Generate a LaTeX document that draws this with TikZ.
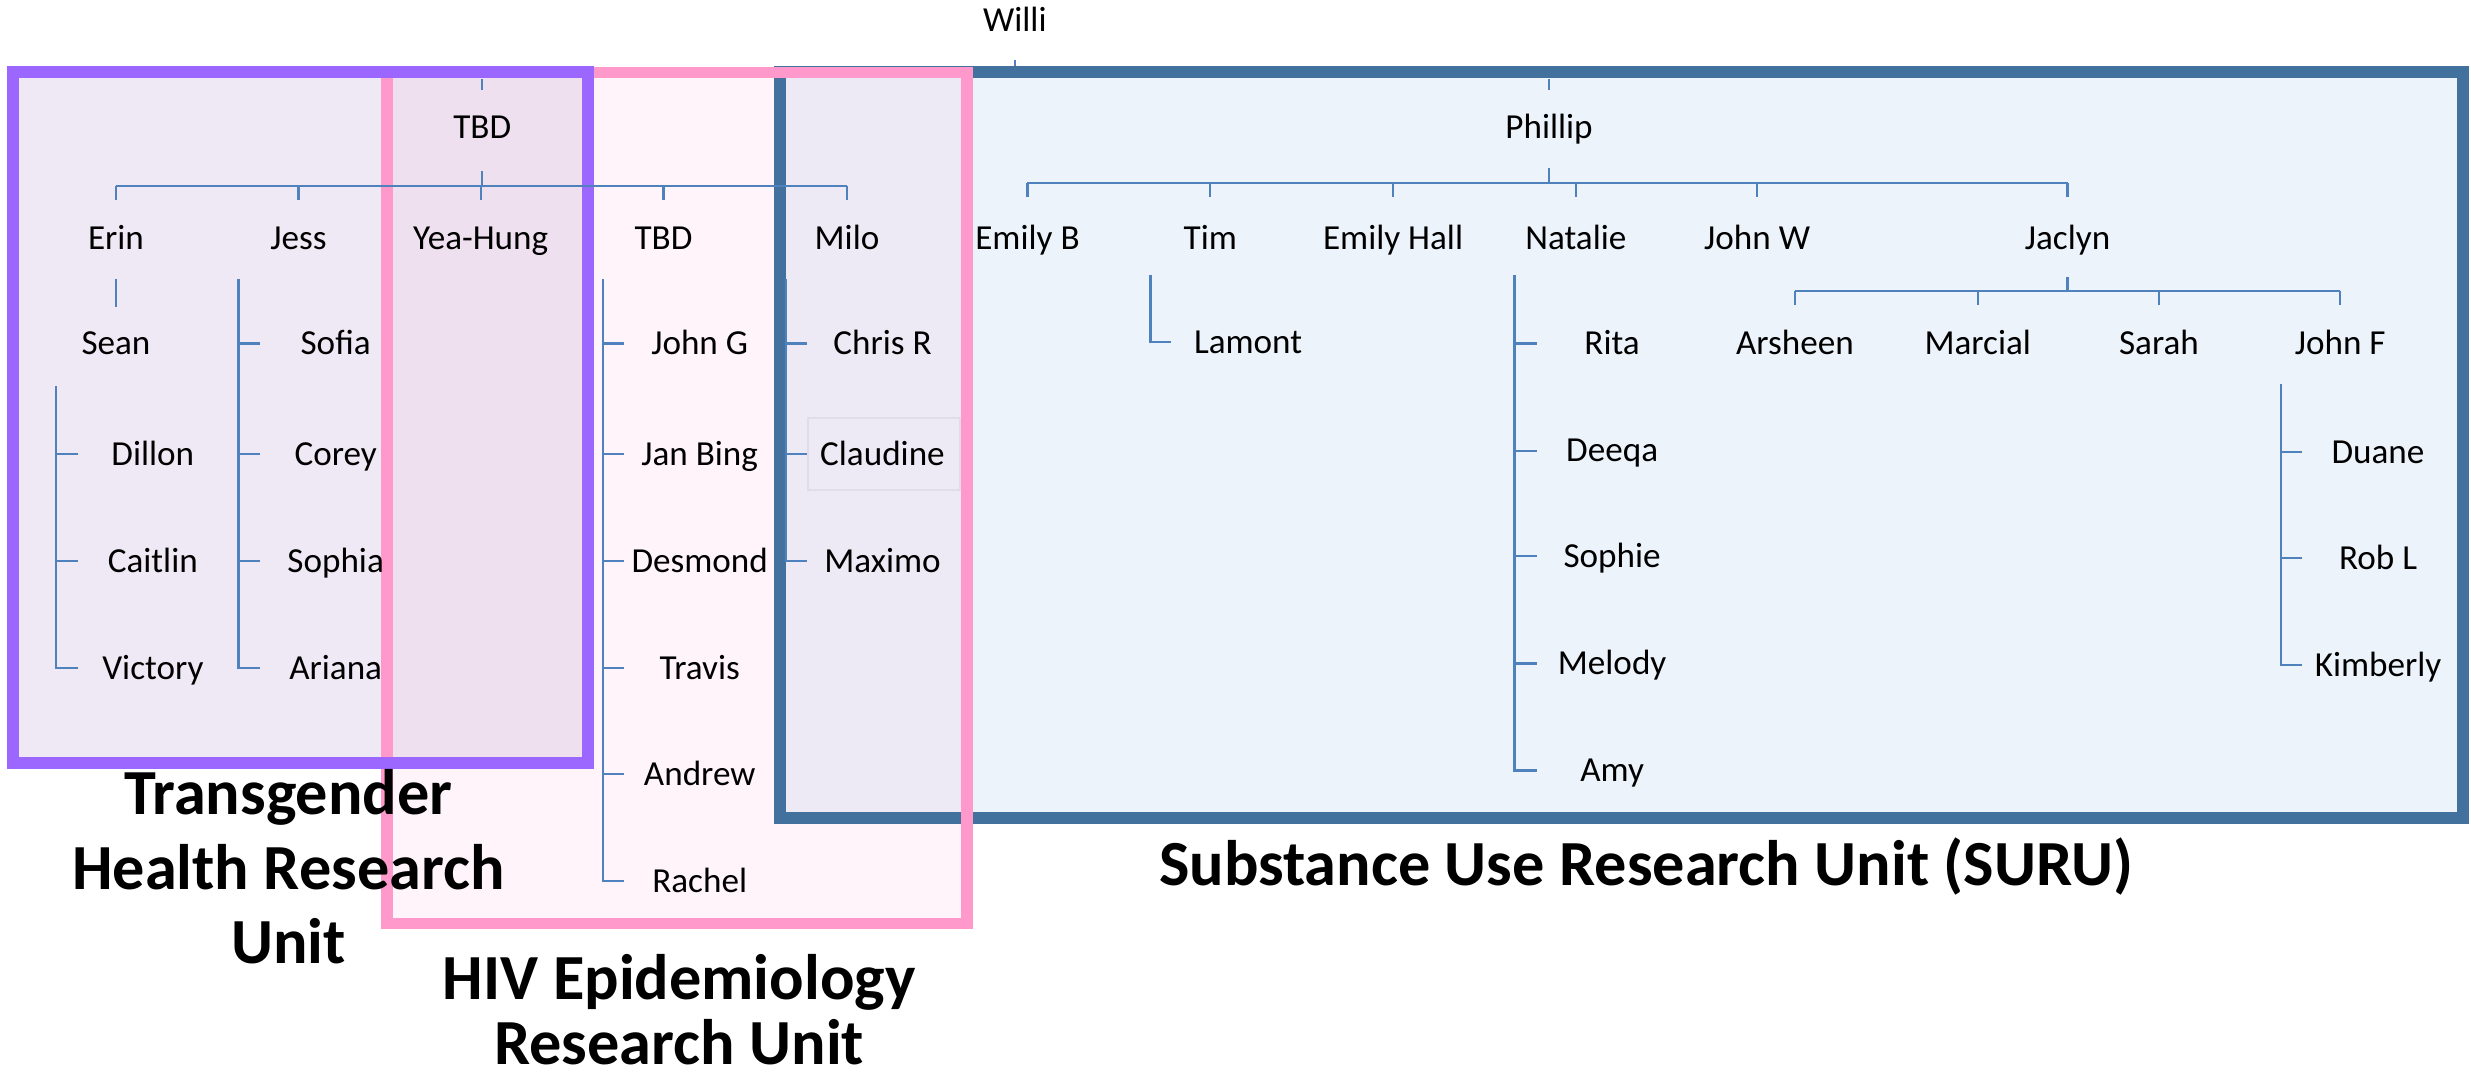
\documentclass[tikz,border=0pt]{standalone}
\usepackage{fontspec}
\setmainfont{Carlito}
\definecolor{conn}{RGB}{79,129,189}
\definecolor{purpleB}{RGB}{155,103,255}
\definecolor{pinkB}{RGB}{255,153,204}
\definecolor{blueB}{RGB}{65,113,156}
\definecolor{purpleF}{RGB}{239,233,245}
\definecolor{pinkF}{RGB}{255,244,250}
\definecolor{blueF}{RGB}{237,243,251}
\definecolor{ppF}{RGB}{238,224,239}
\definecolor{pbF}{RGB}{237,233,245}
\definecolor{claudB}{RGB}{224,221,232}
\begin{document}
\begin{tikzpicture}[x=0.01576cm,y=-0.01576cm,
  person/.style={font=\fontsize{10}{12}\selectfont, inner sep=1pt, text height=6.4pt, text depth=0pt},
  unitlabel/.style={font=\bfseries\fontsize{18.3}{21.3}\selectfont, align=center, inner sep=0pt},
  link/.style={draw=conn, line width=0.65pt},
  frame/.style={line width=3.4pt}]
\useasboundingbox (0,0) rectangle (1568,683);
% fills
\fill[blueF] (495,45.7) rectangle (1563,519);
\fill[pinkF] (245.6,46) rectangle (613.5,586);
\fill[purpleF] (8,45.7) rectangle (373,484);
\fill[ppF] (245.6,46) rectangle (373,484);
\fill[pbF] (495,46) rectangle (613.5,519);
% frames
\draw[frame, blueB] (495,45.7) rectangle (1563,519);
\draw[frame, pinkB] (245.6,46) rectangle (613.5,586);
\draw[frame, purpleB] (8,45.7) rectangle (373,484);
\draw[claudB, line width=0.6pt] (513,265) rectangle (609,311);
% people
\node[person] (willi) at (644,13) {Willi};
\node[person] (tbdA) at (306,81) {TBD};
\node[person] (phillip) at (983,81) {Phillip};
\node[person] (erin) at (73.6,151) {Erin};
\node[person] (jess) at (189.4,151) {Jess};
\node[person] (yeahung) at (305,151) {Yea-Hung};
\node[person] (tbdB) at (421,151) {TBD};
\node[person] (milo) at (537.5,151) {Milo};
\node[person] (emilyb) at (652,151) {Emily B};
\node[person] (tim) at (768,151) {Tim};
\node[person] (emilyhall) at (884,151) {Emily Hall};
\node[person] (natalie) at (1000,151) {Natalie};
\node[person] (johnw) at (1115,151) {John W};
\node[person] (jaclyn) at (1312,151) {Jaclyn};
\node[person] (sean) at (73.6,218) {Sean};
\node[person] (dillon) at (97,288) {Dillon};
\node[person] (caitlin) at (97,356) {Caitlin};
\node[person] (victory) at (97,424) {Victory};
\node[person] (sofia) at (213,218) {Sofia};
\node[person] (corey) at (213,288) {Corey};
\node[person] (sophia) at (213,356) {Sophia};
\node[person] (ariana) at (213,424) {Ariana};
\node[person] (johng) at (444,218) {John G};
\node[person] (janbing) at (444,288) {Jan Bing};
\node[person] (desmond) at (444,356) {Desmond};
\node[person] (travis) at (444,424) {Travis};
\node[person] (andrew) at (444,491) {Andrew};
\node[person] (rachel) at (444,559) {Rachel};
\node[person] (chrisr) at (560,218) {Chris R};
\node[person] (claudine) at (560,288) {Claudine};
\node[person] (maximo) at (560,356) {Maximo};
\node[person] (lamont) at (792,217) {Lamont};
\node[person] (rita) at (1023,218) {Rita};
\node[person] (deeqa) at (1023,286) {Deeqa};
\node[person] (sophie) at (1023,353) {Sophie};
\node[person] (melody) at (1023,421) {Melody};
\node[person] (amy) at (1023,489) {Amy};
\node[person] (arsheen) at (1139,218) {Arsheen};
\node[person] (marcial) at (1255,218) {Marcial};
\node[person] (sarah) at (1370,218) {Sarah};
\node[person] (johnf) at (1485,218) {John F};
\node[person] (duane) at (1509,287) {Duane};
\node[person] (robl) at (1509,354) {Rob L};
\node[person] (kimberly) at (1509,422) {Kimberly};
% stubs
\draw[link] (willi.center |- 0,38) -- (willi.center |- 0,42);
\draw[link] (tbdA.center |- 0,50) -- (tbdA.center |- 0,57);
\draw[link] (phillip.center |- 0,50) -- (phillip.center |- 0,57);
% TBD group bar
\coordinate (tbdbar) at (306,118);
\draw[link] (tbdA.center |- 0,108.5) -- (tbdbar);
\draw[link] (erin.center |- tbdbar) -- (milo.center |- tbdbar);
\foreach \c in {erin,jess,yeahung,tbdB,milo}
  \draw[link] (\c.center |- tbdbar) -- (\c.center |- 0,127);
% Phillip bar
\coordinate (phbar) at (983,116);
\draw[link] (phillip.center |- 0,106.5) -- (phbar);
\draw[link] (emilyb.center |- phbar) -- (jaclyn.center |- phbar);
\foreach \c in {emilyb,tim,emilyhall,natalie,johnw,jaclyn}
  \draw[link] (\c.center |- phbar) -- (\c.center |- 0,125);
% Erin -> Sean
\draw[link] (erin.center |- 0,177) -- (sean.center |- 0,195);
% Sean's team
\coordinate (seanT) at (35.6,245); \coordinate (seanE) at (49.5,245);
\draw[link] (seanT) -- (seanT |- victory) -- (seanE |- victory);
\foreach \c in {dillon,caitlin} \draw[link] (seanT |- \c) -- (seanE |- \c);
% Jess's team
\coordinate (jessT) at (151.4,177); \coordinate (jessE) at (164.7,177);
\draw[link] (jessT) -- (jessT |- ariana) -- (jessE |- ariana);
\foreach \c in {sofia,corey,sophia} \draw[link] (jessT |- \c) -- (jessE |- \c);
% TBD's team
\coordinate (tbdT) at (382.8,177); \coordinate (tbdE) at (396,177);
\draw[link] (tbdT) -- (tbdT |- rachel) -- (tbdE |- rachel);
\foreach \c in {johng,janbing,desmond,travis,andrew} \draw[link] (tbdT |- \c) -- (tbdE |- \c);
% Milo's team
\coordinate (miloT) at (498.6,177); \coordinate (miloE) at (512,177);
\draw[link] (miloT) -- (miloT |- maximo) -- (miloE |- maximo);
\foreach \c in {chrisr,claudine} \draw[link] (miloT |- \c) -- (miloE |- \c);
% Tim's team
\coordinate (timT) at (730,174.5); \coordinate (timE) at (743,174.5);
\draw[link] (timT) -- (timT |- lamont) -- (timE |- lamont);
% Natalie's team
\coordinate (natT) at (961,174.5); \coordinate (natE) at (975,174.5);
\draw[link] (natT) -- (natT |- amy) -- (natE |- amy);
\foreach \c in {rita,deeqa,sophie,melody} \draw[link] (natT |- \c) -- (natE |- \c);
% Jaclyn's team
\coordinate (jacbar) at (1312,184.5);
\draw[link] (jaclyn.center |- 0,175.6) -- (jacbar);
\draw[link] (arsheen.center |- jacbar) -- (johnf.center |- jacbar);
\foreach \c in {arsheen,marcial,sarah,johnf}
  \draw[link] (\c.center |- jacbar) -- (\c.center |- 0,193.6);
% John F's team
\coordinate (jfT) at (1447.5,243.7); \coordinate (jfE) at (1461,243.7);
\draw[link] (jfT) -- (jfT |- kimberly) -- (jfE |- kimberly);
\foreach \c in {duane,robl} \draw[link] (jfT |- \c) -- (jfE |- \c);
% unit labels
\node[unitlabel] (thru) at (183,550) {Transgender\\Health Research\\Unit};
\node[unitlabel, font=\bfseries\fontsize{18.3}{18.5}\selectfont] (heru) at (431,641) {HIV Epidemiology\\Research Unit};
\node[unitlabel] (suru) at (1044.5,550) {Substance Use Research Unit (SURU)};
\end{tikzpicture}
\end{document}
